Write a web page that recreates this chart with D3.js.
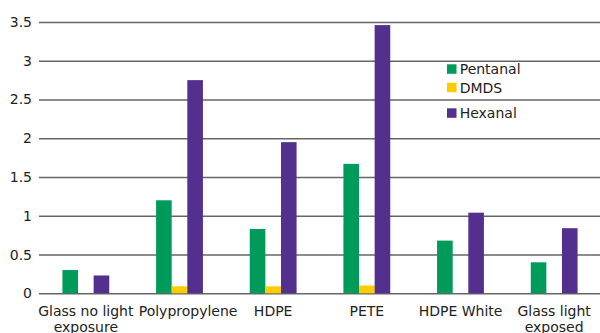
<!DOCTYPE html>
<html>
<head>
<meta charset="utf-8">
<script src="https://cdn.jsdelivr.net/npm/d3@7"></script>
<style>
  html, body { margin: 0; padding: 0; background: #fff; }
  svg { display: block; font-family: "DejaVu Sans", Verdana, sans-serif; }
</style>
</head>
<body>
<svg id="chart" width="600" height="333"></svg>
<script>
// Sample groups (each label line is a separate entry)
const categories = [
  ["Glass no light", "exposure"],
  ["Polypropylene"],
  ["HDPE"],
  ["PETE"],
  ["HDPE White"],
  ["Glass light", "exposed"]
];
const seriesNames = ["Pentanal", "DMDS", "Hexanal"];
const pentanal = [0.30, 1.20, 0.83, 1.67, 0.68, 0.40];
const dmds     = [0.00, 0.09, 0.09, 0.10, 0.00, 0.00];
const hexanal  = [0.23, 2.75, 1.95, 3.46, 1.04, 0.84];
const yTicks = [0, 0.5, 1, 1.5, 2, 2.5, 3, 3.5];
const colors = ["#009B5B", "#FFCC00", "#532F8E"];

const series = [pentanal, dmds, hexanal];
const catKeys = categories.map(c => c.join(" "));

const svg = d3.select("#chart");
const margin = { left: 39, right: -1, top: 22, bottom: 40 };
const width = 600, height = 333;
const y0 = 293.3;

const x = d3.scaleBand()
  .domain(catKeys)
  .range([margin.left, width - margin.right])
  .paddingInner(0.5)
  .paddingOuter(0.25);

const xInner = d3.scaleBand()
  .domain(seriesNames)
  .range([0, x.bandwidth()]);

const y = d3.scaleLinear()
  .domain([0, 3.5])
  .range([y0, margin.top]);

// Horizontal gridlines with value labels
const yAxis = d3.axisLeft(y)
  .tickValues(yTicks)
  .tickFormat(d => String(d))
  .tickSize(-(width - margin.left))
  .tickPadding(7);

const gy = svg.append("g")
  .attr("transform", `translate(${margin.left},0)`)
  .call(yAxis);
gy.select(".domain").remove();
gy.selectAll(".tick line")
  .attr("stroke", "#666")
  .attr("stroke-width", 1.6);
gy.selectAll(".tick text")
  .attr("fill", "#222")
  .attr("font-size", 14)
  .attr("font-family", "DejaVu Sans, Verdana, sans-serif");

// Grouped bars
const groups = svg.append("g")
  .selectAll("g")
  .data(catKeys)
  .join("g")
  .attr("transform", d => `translate(${x(d)},0)`);

groups.selectAll("rect")
  .data((d, i) => seriesNames.map((s, j) => ({ s, v: series[j][i], c: colors[j] })))
  .join("rect")
  .filter(d => d.v > 0)
  .attr("x", d => xInner(d.s))
  .attr("width", xInner.bandwidth())
  .attr("y", d => y(d.v))
  .attr("height", d => y(0) - y(d.v))
  .attr("fill", d => d.c);

// Category labels under the baseline
const xAxis = d3.axisBottom(x).tickSize(0).tickFormat("");
const gx = svg.append("g")
  .attr("transform", `translate(0,${y0})`)
  .call(xAxis);
gx.select(".domain").remove();

const labels = [];
gx.selectAll(".tick").each(function(d, i) {
  const t = d3.select(this).append("text")
    .attr("fill", "#222")
    .attr("font-size", 14)
    .attr("font-family", "DejaVu Sans, Verdana, sans-serif")
    .attr("text-anchor", "middle")
    .attr("y", 22.5);
  categories[i].forEach((line, k) => {
    t.append("tspan").attr("x", 0).attr("dy", k === 0 ? 0 : 16).text(line);
  });
  labels.push({ node: t, center: x(d) + x.bandwidth() / 2 });
});

// Push a label right when it would collide with its left neighbour
let prevRight = -Infinity;
labels.forEach(l => {
  const w = l.node.node().getBBox().width;
  let left = l.center - w / 2;
  let shift = 0;
  if (left < prevRight + 5) shift = prevRight + 5 - left;
  l.node.attr("transform", `translate(${shift},0)`);
  prevRight = l.center + shift + w / 2;
});

// Legend
const legendY = [74.3, 92.7, 118.3];
const legend = svg.append("g").attr("transform", "translate(447,0)");
seriesNames.forEach((name, j) => {
  legend.append("rect")
    .attr("x", 0)
    .attr("y", legendY[j] - 10)
    .attr("width", 9.5)
    .attr("height", 9.5)
    .attr("fill", colors[j]);
  legend.append("text")
    .attr("x", 12.7)
    .attr("y", legendY[j])
    .attr("fill", "#222")
    .attr("font-size", 14)
    .text(name);
});
</script>
</body>
</html>
